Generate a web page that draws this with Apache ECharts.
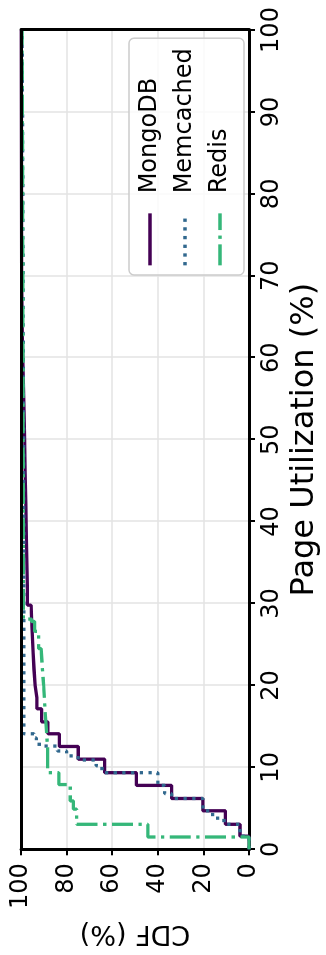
<!DOCTYPE html>
<html>
<head>
<meta charset="utf-8">
<script src="https://cdn.jsdelivr.net/npm/echarts@6/dist/echarts.min.js"></script>
<style>
html,body{margin:0;padding:0;background:#fff;overflow:hidden;width:326px;height:955px;}
#chart{position:absolute;left:0;top:0;width:955px;height:326px;transform-origin:0 0;transform:translateY(955px) rotate(-90deg);}
</style>
</head>
<body>
<div id="chart"></div>
<script>
// Page utilization (%) at which each CDF step happens, and CDF (%) after the step
const mongoUtil = [0, 1.6, 3.05, 4.7, 6.2, 7.8, 9.35, 11.0, 12.55, 14.1, 15.55, 17.15, 18.5, 20, 22, 24, 26, 28, 29.8, 32, 35, 38, 42, 46, 50, 53, 57, 62, 70, 100];
const mongoCdf  = [0, 4, 10.4, 20.3, 34, 49.4, 63.3, 74.9, 83.2, 88.2, 91, 93, 93.8, 94.3, 94.7, 95, 95.3, 95.6, 97.2, 97.4, 97.6, 97.9, 98.2, 98.4, 98.6, 99, 99.4, 99.7, 99.9, 100];

const memUtil = [0, 1.6, 3.05, 3.8, 4.7, 6.2, 6.8, 7.8, 9.35, 10.2, 10.9, 11.4, 12.0, 12.6, 13.2, 13.6, 14.1, 40, 60, 80, 100];
const memCdf  = [0, 4, 11, 16, 20.3, 34, 37, 40, 64.5, 67, 75, 80, 84, 92, 93.3, 94.3, 98.8, 99.0, 99.2, 99.5, 100];

const redisUtil = [0, 1.5, 3.05, 4.9, 5.9, 7.9, 9.35, 12.3, 15.5, 17.1, 20, 22, 24.5, 26.6, 27.8, 28.1, 45, 70, 100];
const redisCdf  = [0, 44.4, 75.6, 77, 78.4, 83.4, 88.3, 89.1, 89.5, 90.1, 90.6, 91.2, 92.3, 94, 95.4, 99, 99.2, 99.5, 100];

const seriesNames = ['MongoDB', 'Memcached', 'Redis'];
const xAxisName = 'Page Utilization (%)';
const yAxisName = 'CDF (%)';

const FONT = 'DejaVu Sans';
const pairs = (u, c) => u.map((v, i) => [v, c[i]]);

const chart = echarts.init(document.getElementById('chart'));
const axisCommon = {
  type: 'value', min: 0, max: 100,
  axisLine: {show: true, onZero: false, lineStyle: {color: '#000', width: 3}},
  axisTick: {show: true, inside: false, length: 6, lineStyle: {color: '#000', width: 2}},
  splitLine: {show: true, showMinLine: false, showMaxLine: false, lineStyle: {color: '#e3e3e3', width: 1.5}},
};
const frameAxis = {
  type: 'value', min: 0, max: 100, z: 10,
  axisLine: {show: true, onZero: false, lineStyle: {color: '#000', width: 3}},
  axisTick: {show: false}, axisLabel: {show: false}, splitLine: {show: false},
};
chart.setOption({
  animation: false,
  backgroundColor: '#fff',
  grid: {left: 105, right: 30, top: 21, bottom: 70, show: false},
  xAxis: [
    Object.assign({}, axisCommon, {
      interval: 10, position: 'bottom',
      name: xAxisName, nameLocation: 'middle', nameGap: 38,
      nameTextStyle: {fontFamily: FONT, color: '#000', fontSize: 32},
      axisLabel: {fontFamily: FONT, color: '#000', fontSize: 24, margin: 11},
    }),
    Object.assign({}, frameAxis, {position: 'top', interval: 10}),
  ],
  yAxis: [
    Object.assign({}, axisCommon, {
      interval: 20, position: 'left',
      name: yAxisName, nameLocation: 'middle', nameGap: 68,
      nameTextStyle: {fontFamily: FONT, color: '#000', fontSize: 27},
      axisLabel: {fontFamily: FONT, color: '#000', fontSize: 24, margin: 14},
    }),
    Object.assign({}, frameAxis, {position: 'right', interval: 20}),
  ],
  legend: {
    orient: 'vertical', left: 680, top: 129,
    data: seriesNames,
    itemWidth: 52, itemHeight: 14, itemGap: 11,
    padding: [9, 10, 12, 8],
    backgroundColor: 'rgba(255,255,255,0.8)',
    borderColor: '#cccccc', borderWidth: 1.5, borderRadius: 5,
    itemStyle: {opacity: 0},
    lineStyle: {width: 3.3},
    textStyle: {fontFamily: FONT, fontSize: 24, color: '#000', padding: [0, 0, 0, 15]},
  },
  series: [
    {name: seriesNames[0], type: 'line', step: 'end', symbol: 'none', clip: true, z: 3,
     data: pairs(mongoUtil, mongoCdf),
     lineStyle: {color: '#440154', width: 3.3, type: 'solid'}, itemStyle: {color: '#440154'}},
    {name: seriesNames[1], type: 'line', step: 'end', symbol: 'none', clip: true, z: 4,
     data: pairs(memUtil, memCdf),
     lineStyle: {color: '#31688e', width: 3.3, type: [3.3, 5.4]}, itemStyle: {color: '#31688e'}},
    {name: seriesNames[2], type: 'line', step: 'end', symbol: 'none', clip: true, z: 5,
     data: pairs(redisUtil, redisCdf),
     lineStyle: {color: '#35b779', width: 3.3, type: [21, 5.5, 3.3, 5.5]}, itemStyle: {color: '#35b779'}},
  ],
});
</script>
</body>
</html>
